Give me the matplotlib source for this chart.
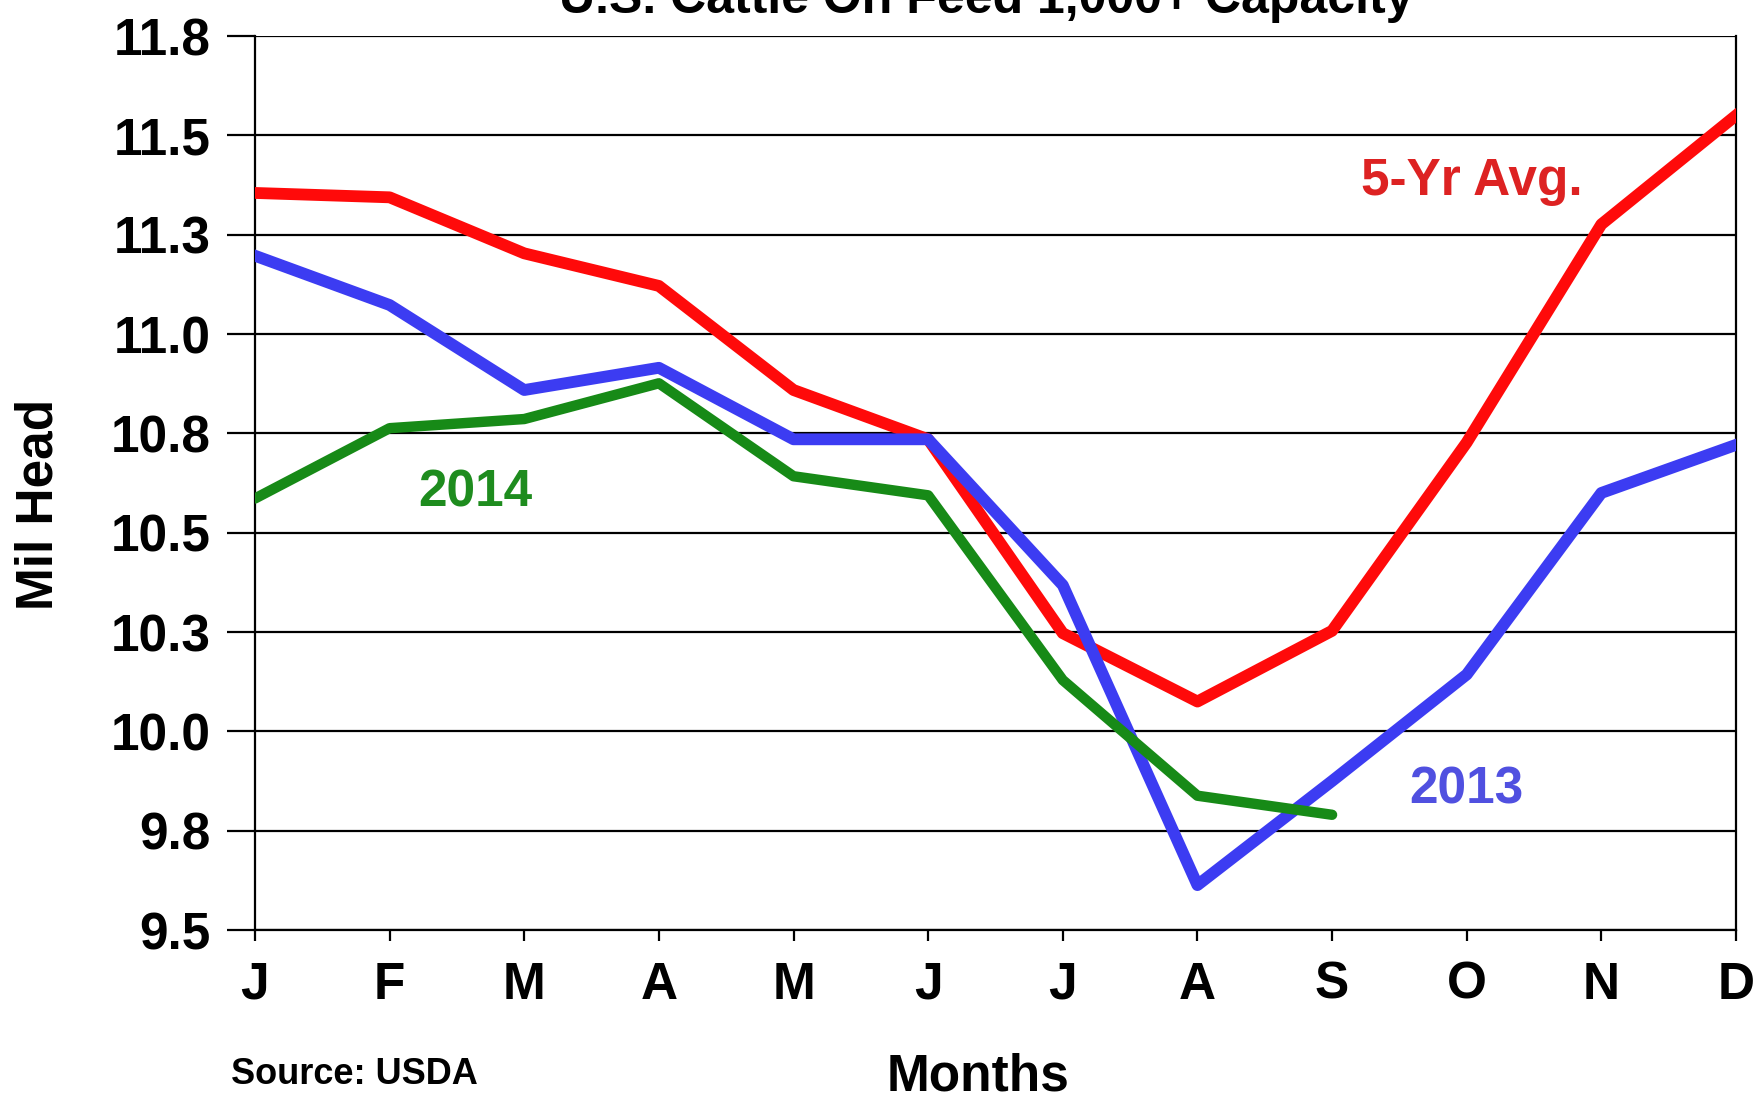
import numpy as np
import matplotlib
matplotlib.use("Agg")
import matplotlib.pyplot as plt

months = ["J", "F", "M", "A", "M", "J", "J", "A", "S", "O", "N", "D"]
avg_5yr = [11.355, 11.344, 11.203, 11.121, 10.859, 10.735, 10.247, 10.075, 10.253, 10.727, 11.276, 11.55]
y2013 = [11.197, 11.073, 10.859, 10.915, 10.735, 10.735, 10.368, 9.613, 9.875, 10.143, 10.600, 10.721]
y2014 = [10.586, 10.763, 10.786, 10.876, 10.642, 10.594, 10.129, 9.838, 9.790]
y_ticks = [9.5, 9.75, 10.0, 10.25, 10.5, 10.75, 11.0, 11.25, 11.5, 11.75]
y_tick_labels = ["9.5", "9.8", "10.0", "10.3", "10.5", "10.8", "11.0", "11.3", "11.5", "11.8"]

plt.rcParams['font.family'] = ['Liberation Sans', 'DejaVu Sans']
plt.rcParams['font.weight'] = 'bold'

fig = plt.figure(figsize=(17.56, 11.01), dpi=100)
ax = fig.add_axes([0.1452, 0.1553, 0.8434, 0.812])

x = np.arange(len(months))
ax.plot(x, avg_5yr, color='#ff0a0a', lw=8.5, zorder=3, solid_joinstyle='round')
ax.plot(x, y2013, color='#3c3cf2', lw=8.5, zorder=4, solid_joinstyle='round')
ax.plot(x[:len(y2014)], y2014, color='#178a17', lw=7.5, zorder=5,
        solid_joinstyle='round', solid_capstyle='round')

ax.set_xlim(0, 11)
ax.set_ylim(9.5, 11.75)
ax.set_yticks(y_ticks)
ax.set_yticklabels(y_tick_labels)
ax.set_xticks(x)
ax.set_xticklabels(months)
ax.yaxis.grid(True, color='black', lw=1.6)
ax.set_axisbelow(True)

for s in ax.spines.values():
    s.set_linewidth(1.6)
    s.set_color('black')
ax.spines['top'].set_visible(False)

ax.tick_params(axis='y', direction='out', length=20, width=1.6, pad=12, labelsize=37)
ax.tick_params(axis='x', direction='out', length=8, width=1.6, pad=14, labelsize=37)

ax.text(9.04, 11.383, "5-Yr Avg.", color='#dd2222', fontsize=37, fontweight='bold',
        ha='center', va='center')
ax.text(1.64, 10.60, "2014", color='#1e8c1e', fontsize=37, fontweight='bold',
        ha='center', va='center')
ax.text(9.0, 9.853, "2013", color='#5050e0', fontsize=37, fontweight='bold',
        ha='center', va='center')

fig.text(0.5615, 0.988, "U.S. Cattle On Feed 1,000+ Capacity", fontsize=36, fontweight='bold',
         ha='center', va='baseline')
fig.text(0.022, 0.542, "Mil Head", rotation=90, fontsize=37, fontweight='bold',
         ha='center', va='center')
fig.text(0.557, 0.022, "Months", fontsize=37, fontweight='bold', ha='center', va='center')
fig.text(0.1315, 0.024, "Source: USDA", fontsize=26, fontweight='bold', ha='left', va='center')

fig.savefig("out.png", dpi=100)
